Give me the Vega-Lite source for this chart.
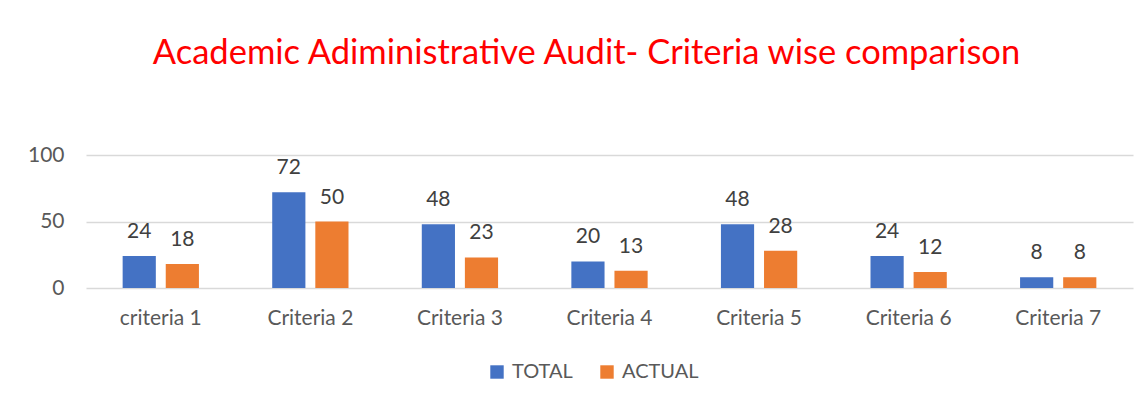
{
  "$schema": "https://vega.github.io/schema/vega-lite/v6.json",
  "width": 1047,
  "height": 133,
  "autosize": {"type": "none"},
  "padding": {"left": 86, "top": 155, "right": 15, "bottom": 118},
  "background": "white",
  "title": {
    "text": "Academic Adiministrative Audit- Criteria wise comparison",
    "color": "#FF0000",
    "font": "Lato",
    "fontSize": 34.5,
    "fontWeight": "normal",
    "anchor": "middle",
    "frame": "group",
    "offset": 73,
    "dx": -23
  },
  "data": {
    "values": [
      {"criteria": "criteria 1", "series": "TOTAL", "value": 24},
      {"criteria": "criteria 1", "series": "ACTUAL", "value": 18},
      {"criteria": "Criteria 2", "series": "TOTAL", "value": 72},
      {"criteria": "Criteria 2", "series": "ACTUAL", "value": 50},
      {"criteria": "Criteria 3", "series": "TOTAL", "value": 48},
      {"criteria": "Criteria 3", "series": "ACTUAL", "value": 23},
      {"criteria": "Criteria 4", "series": "TOTAL", "value": 20},
      {"criteria": "Criteria 4", "series": "ACTUAL", "value": 13},
      {"criteria": "Criteria 5", "series": "TOTAL", "value": 48},
      {"criteria": "Criteria 5", "series": "ACTUAL", "value": 28},
      {"criteria": "Criteria 6", "series": "TOTAL", "value": 24},
      {"criteria": "Criteria 6", "series": "ACTUAL", "value": 12},
      {"criteria": "Criteria 7", "series": "TOTAL", "value": 8},
      {"criteria": "Criteria 7", "series": "ACTUAL", "value": 8}
    ]
  },
  "encoding": {
    "x": {
      "field": "criteria",
      "type": "nominal",
      "sort": null,
      "scale": {"paddingInner": 0.49, "paddingOuter": 0.245},
      "axis": {
        "title": null,
        "labelAngle": 0,
        "domain": false,
        "ticks": false,
        "labelFont": "Lato",
        "labelFontSize": 21,
        "labelColor": "#595959",
        "labelPadding": 19
      }
    },
    "xOffset": {
      "field": "series",
      "type": "nominal",
      "sort": ["TOTAL", "ACTUAL"],
      "scale": {"paddingInner": 0.23, "paddingOuter": 0}
    },
    "y": {
      "field": "value",
      "type": "quantitative",
      "scale": {"domain": [0, 100], "nice": false},
      "axis": {
        "title": null,
        "values": [0, 50, 100],
        "domain": false,
        "ticks": false,
        "grid": true,
        "gridColor": "#D9D9D9",
        "gridWidth": 1.5,
        "labelFont": "Lato",
        "labelFontSize": 21,
        "labelColor": "#595959",
        "labelPadding": 22
      }
    }
  },
  "layer": [
    {
      "mark": {"type": "bar"},
      "encoding": {
        "color": {
          "field": "series",
          "type": "nominal",
          "sort": ["TOTAL", "ACTUAL"],
          "scale": {"domain": ["TOTAL", "ACTUAL"], "range": ["#4472C4", "#ED7D31"]},
          "legend": {
            "title": null,
            "orient": "none",
            "direction": "horizontal",
            "legendX": 401,
            "legendY": 207,
            "symbolType": "square",
            "symbolSize": 180,
            "symbolStrokeWidth": 0,
            "labelFont": "Lato",
            "labelFontSize": 20,
            "labelColor": "#595959",
            "columnPadding": 24,
            "labelOffset": 5,
            "symbolOffset": 0
          }
        }
      }
    },
    {
      "mark": {"type": "text", "baseline": "alphabetic", "dy": -18, "font": "Lato", "fontSize": 21, "color": "#404040"},
      "encoding": {
        "text": {"field": "value", "type": "quantitative"}
      }
    }
  ],
  "config": {
    "view": {"stroke": null}
  }
}
